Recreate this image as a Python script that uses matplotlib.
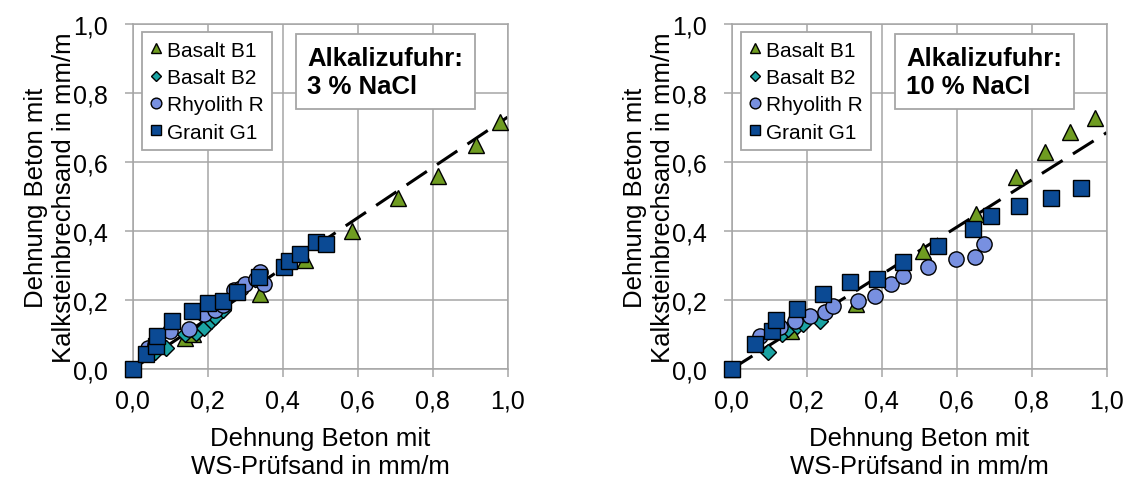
import matplotlib
matplotlib.use('Agg')
import matplotlib.pyplot as plt
from matplotlib.ticker import FuncFormatter

plt.rcParams['font.family'] = ['Liberation Sans', 'DejaVu Sans']

# 3 % NaCl
b1_x_3 = [0.0, 0.14, 0.16, 0.34, 0.46, 0.585, 0.708, 0.815, 0.915, 0.98]
b1_y_3 = [0.0, 0.09, 0.10, 0.217, 0.316, 0.40, 0.496, 0.558, 0.649, 0.715]
b2_x_3 = [0.0, 0.06, 0.09, 0.14, 0.17, 0.19, 0.21, 0.22, 0.24]
b2_y_3 = [0.0, 0.048, 0.06, 0.10, 0.105, 0.12, 0.14, 0.15, 0.17]
r_x_3 = [0.04, 0.06, 0.10, 0.15, 0.19, 0.22, 0.24, 0.27, 0.29, 0.30, 0.33, 0.34, 0.35]
r_y_3 = [0.06, 0.07, 0.11, 0.115, 0.16, 0.17, 0.185, 0.23, 0.235, 0.245, 0.26, 0.28, 0.245]
g1_x_3 = [0.0, 0.035, 0.061, 0.064, 0.106, 0.159, 0.2, 0.242, 0.279, 0.337, 0.403, 0.417, 0.446, 0.49, 0.515]
g1_y_3 = [0.0, 0.043, 0.068, 0.097, 0.14, 0.167, 0.191, 0.198, 0.222, 0.268, 0.295, 0.312, 0.333, 0.369, 0.362]
slope_3 = 0.73

# 10 % NaCl
b1_x_10 = [0.0, 0.157, 0.331, 0.511, 0.651, 0.758, 0.835, 0.902, 0.969]
b1_y_10 = [0.0, 0.111, 0.188, 0.343, 0.449, 0.556, 0.628, 0.686, 0.727]
b2_x_10 = [0.0, 0.096, 0.133, 0.151, 0.173, 0.191, 0.235]
b2_y_10 = [0.0, 0.048, 0.101, 0.116, 0.126, 0.13, 0.14]
r_x_10 = [0.075, 0.129, 0.169, 0.209, 0.249, 0.271, 0.338, 0.382, 0.425, 0.456, 0.523, 0.598, 0.649, 0.674]
r_y_10 = [0.097, 0.121, 0.14, 0.155, 0.164, 0.184, 0.198, 0.212, 0.246, 0.27, 0.297, 0.319, 0.324, 0.362]
g1_x_10 = [0.0, 0.062, 0.107, 0.117, 0.173, 0.243, 0.315, 0.387, 0.458, 0.549, 0.643, 0.691, 0.766, 0.851, 0.931]
g1_y_10 = [0.0, 0.072, 0.109, 0.143, 0.174, 0.217, 0.253, 0.261, 0.309, 0.357, 0.406, 0.443, 0.473, 0.495, 0.524]
slope_10 = 0.685

ticks = [0.0, 0.2, 0.4, 0.6, 0.8, 1.0]
grid_col = '#a6a6a6'

fig = plt.figure(figsize=(11.28, 4.81), dpi=100)
ax1 = fig.add_axes([0.1176, 0.2308, 0.3324, 0.7173])
ax2 = fig.add_axes([0.6487, 0.2308, 0.3324, 0.7173])


def draw(ax, b1x, b1y, b2x, b2y, rx, ry, gx, gy, slope, label):
    ax.plot([0, 1], [0, slope], color='black', lw=2.2, dashes=(8, 4), zorder=2)
    ax.plot(b1x, b1y, '^', ms=11, mfc='#6f9c21', mec='black', mew=1, ls='none',
            label='Basalt B1', clip_on=False, zorder=3)
    ax.plot(b2x, b2y, 'D', ms=8, mfc='#1ba3a3', mec='black', mew=1, ls='none',
            label='Basalt B2', clip_on=False, zorder=3)
    ax.plot(rx, ry, 'o', ms=11, mfc='#7890e0', mec='black', mew=1, ls='none',
            label='Rhyolith R', clip_on=False, zorder=3)
    ax.plot(gx, gy, 's', ms=11, mfc='#0b4a94', mec='black', mew=1, ls='none',
            label='Granit G1', clip_on=False, zorder=3)

    ax.set_xlim(0, 1)
    ax.set_ylim(0, 1)
    ax.set_xticks(ticks)
    ax.set_yticks(ticks)
    fmt = FuncFormatter(lambda v, p: f'{v:.1f}'.replace('.', ','))
    ax.xaxis.set_major_formatter(fmt)
    ax.yaxis.set_major_formatter(fmt)
    ax.grid(True, color=grid_col, lw=1.1, zorder=0)
    ax.set_axisbelow(True)
    for s in ax.spines.values():
        s.set_color(grid_col)
        s.set_linewidth(1.1)
    ax.tick_params(direction='out', length=6, width=1.1, color=grid_col, labelsize=18)
    ax.tick_params(axis='x', pad=8)
    ax.tick_params(axis='y', pad=12)
    ax.set_xlabel('Dehnung Beton mit\nWS-Prüfsand in mm/m', fontsize=18.5, labelpad=10,
                  linespacing=1.2)
    ax.set_ylabel('Dehnung Beton mit\nKalksteinbrechsand in mm/m', fontsize=18.5, labelpad=-2,
                  linespacing=1.2)

    leg = ax.legend(loc='upper left', bbox_to_anchor=(0.024, 0.976), borderaxespad=0,
                    fontsize=15, markerscale=0.7, handlelength=0.6, handletextpad=0.2,
                    labelspacing=0.4, borderpad=0.4, fancybox=False, framealpha=1)
    leg.get_frame().set_edgecolor(grid_col)
    leg.get_frame().set_linewidth(1.3)

    ax.text(0.466, 0.937, 'Alkalizufuhr:\n' + label, transform=ax.transAxes,
            ha='left', va='top', fontsize=18.5, fontweight='bold', linespacing=1.2,
            bbox=dict(boxstyle='square,pad=0.45', fc='white', ec=grid_col, lw=1.3),
            zorder=5)


draw(ax1, b1_x_3, b1_y_3, b2_x_3, b2_y_3, r_x_3, r_y_3, g1_x_3, g1_y_3, slope_3, '3 % NaCl')
draw(ax2, b1_x_10, b1_y_10, b2_x_10, b2_y_10, r_x_10, r_y_10, g1_x_10, g1_y_10, slope_10, '10 % NaCl')

fig.savefig('out.png', dpi=100)
